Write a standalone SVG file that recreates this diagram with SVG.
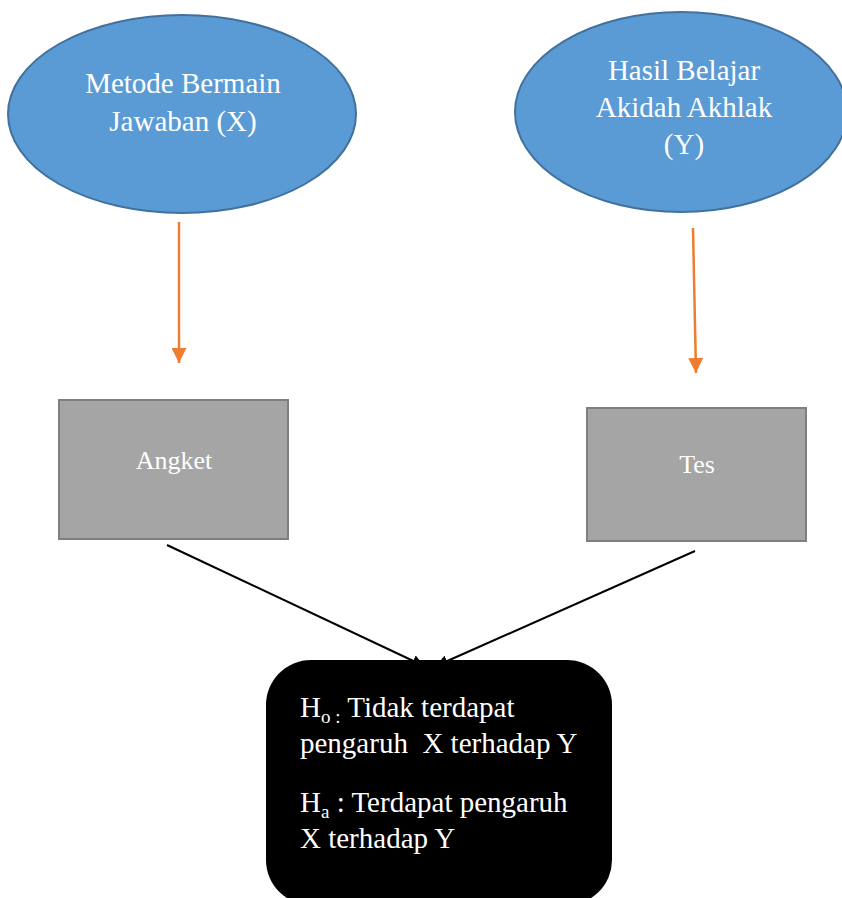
<svg xmlns="http://www.w3.org/2000/svg" width="842" height="898" viewBox="0 0 842 898">
<style>
.ell{fill:#5b9bd5;stroke:#41719c;stroke-width:2}
.box{fill:#a5a5a5;stroke:#7f7f7f;stroke-width:2}
.t{font-family:"Liberation Serif","Times New Roman",serif;fill:#fff}
.big{font-size:29px}
.mid{font-size:26px}
.oarr{stroke:#ed7d31;stroke-width:2.5;fill:none}
.barr{stroke:#000;stroke-width:2;fill:none}
</style>
<defs>
<marker id="oh" viewBox="0 0 10 10" refX="10" refY="5" markerWidth="16" markerHeight="15" orient="auto" markerUnits="userSpaceOnUse">
<path d="M0,0 L10,5 L0,10 Z" fill="#ed7d31"/>
</marker>
<marker id="bh" viewBox="0 0 10 10" refX="10" refY="5" markerWidth="12" markerHeight="12" orient="auto" markerUnits="userSpaceOnUse">
<path d="M0,0 L10,5 L0,10 Z" fill="#000"/>
</marker>
</defs>
<rect width="842" height="898" fill="#fff"/>
<g id="connectors">
<line class="oarr" x1="179" y1="222" x2="179" y2="363" marker-end="url(#oh)"/>
<line class="oarr" x1="693" y1="228" x2="696" y2="373" marker-end="url(#oh)"/>
<line class="barr" x1="167" y1="545" x2="424" y2="666" marker-end="url(#bh)"/>
<line class="barr" x1="695" y1="551" x2="436" y2="666" marker-end="url(#bh)"/>
</g>
<g id="node-x">
<ellipse class="ell" cx="182" cy="114" rx="174" ry="99"/>
<text class="t big" x="183" y="93" text-anchor="middle">Metode Bermain</text>
<text class="t big" x="183" y="131" text-anchor="middle">Jawaban (X)</text>
</g>
<g id="node-y">
<ellipse class="ell" cx="681" cy="112" rx="166" ry="100"/>
<text class="t big" x="684" y="80" text-anchor="middle">Hasil Belajar</text>
<text class="t big" x="684" y="117" text-anchor="middle">Akidah Akhlak</text>
<text class="t big" x="684" y="154" text-anchor="middle">(Y)</text>
</g>
<g id="node-angket">
<rect class="box" x="59" y="400" width="229" height="139"/>
<text class="t mid" x="174" y="469" text-anchor="middle">Angket</text>
</g>
<g id="node-tes">
<rect class="box" x="587" y="408" width="219" height="133"/>
<text class="t mid" x="697" y="473" text-anchor="middle">Tes</text>
</g>
<g id="node-hipotesis">
<rect x="266" y="660" width="346" height="245" rx="45" ry="45" fill="#000"/>
<text class="t big" x="300" y="717">H<tspan font-size="19" dy="6">o :</tspan><tspan dy="-6"> Tidak terdapat</tspan></text>
<text class="t big" x="300" y="753" xml:space="preserve">pengaruh  X terhadap Y</text>
<text class="t big" x="300" y="812">H<tspan font-size="19" dy="6">a</tspan><tspan dy="-6"> : Terdapat pengaruh</tspan></text>
<text class="t big" x="300" y="848">X terhadap Y</text>
</g>
</svg>
